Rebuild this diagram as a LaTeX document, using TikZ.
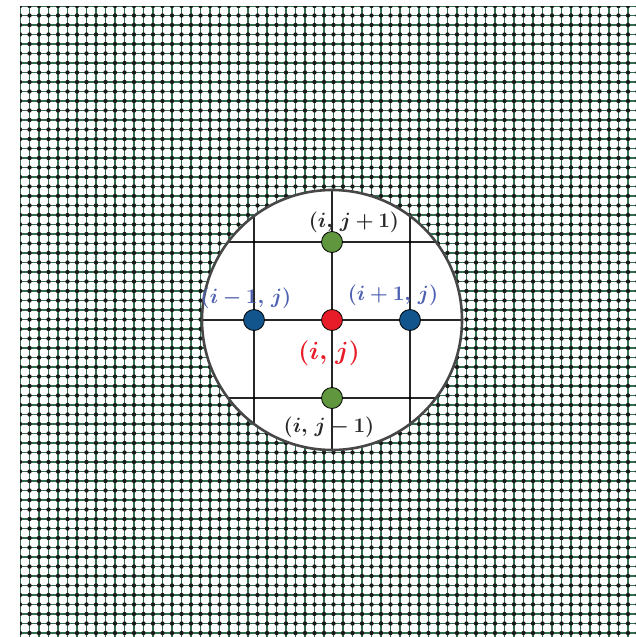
\documentclass[tikz,border=0pt]{standalone}
\usepackage{amsmath,bm}
\definecolor{gridgreen}{RGB}{50,110,78}
\definecolor{ptgreen}{RGB}{96,150,62}
\definecolor{ptblue}{RGB}{18,84,140}
\definecolor{ptred}{RGB}{232,28,40}
\definecolor{lblblue}{RGB}{78,96,178}
\definecolor{lblgray}{RGB}{40,40,40}
\begin{document}
\begin{tikzpicture}[x=1pt,y=-1pt,
  gridline/.style={draw=gridgreen, line width=1.5pt},
  griddot/.style={draw=black!90, line width=4.4pt, dash pattern=on 0pt off 9.5pt, line cap=round},
  innerline/.style={draw=black!85, line width=1.4pt},
  lensring/.style={draw=black!72, line width=2.6pt},
  ptnode/.style={circle, draw=black, line width=0.8pt, minimum size=21pt, inner sep=0pt},
  lbl/.style={font=\fontsize{21}{21}\selectfont, inner sep=0pt},
  biglbl/.style={font=\fontsize{28}{28}\selectfont, inner sep=0pt}]
\useasboundingbox (0,0) rectangle (636,637);
% background mesh
\begin{scope}
  \clip (20,6) rectangle (636,637);
  \foreach \k in {0,...,66} {
    \draw[gridline] (20+\k*9.5,0) -- (20+\k*9.5,640);
    \draw[gridline] (0,6+\k*9.5) -- (640,6+\k*9.5);
  }
  \foreach \k in {0,...,66} {
    \draw[griddot] (20,6+\k*9.5) -- (640,6+\k*9.5);
  }
\end{scope}
% magnifier
\coordinate (c) at (332,320);
\fill[white] (c) circle (130);
\begin{scope}
  \clip (c) circle (130);
  \foreach \x in {254,332,410} {
    \draw[innerline] (\x,180) -- (\x,460);
  }
  \foreach \y in {242,320,398} {
    \draw[innerline] (190,\y) -- (470,\y);
  }
  \foreach \x in {254,332,410} {
    \foreach \y in {242,320,398} {
      \fill[black] (\x,\y) circle (1.6);
    }
  }
\end{scope}
\draw[lensring] (c) circle (130);
% points
\node[ptnode, fill=ptgreen] (top) at (332,242) {};
\node[ptnode, fill=ptgreen] (bot) at (332,398) {};
\node[ptnode, fill=ptblue] (left) at (254,320) {};
\node[ptnode, fill=ptblue] (right) at (410,320) {};
\node[ptnode, fill=ptred] (mid) at (332,320) {};
% labels
\node[lbl, text=lblgray] (ltop) at (354,222) {$\boldsymbol{(i,\,j+1)}$};
\node[lbl, text=lblgray] (lbot) at (329,427) {$\boldsymbol{(i,\,j-1)}$};
\node[lbl, text=lblblue] (lleft) at (246,298) {$\boldsymbol{(i-1,\,j)}$};
\node[lbl, text=lblblue] (lright) at (393,295) {$\boldsymbol{(i+1,\,j)}$};
\node[biglbl, text=ptred] (lmid) at (329,353) {$\boldsymbol{(i,\,j)}$};
\end{tikzpicture}
\end{document}
